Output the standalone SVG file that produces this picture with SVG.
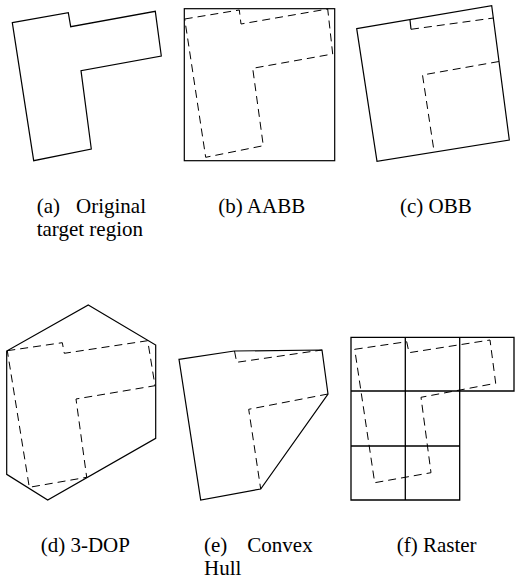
<svg xmlns="http://www.w3.org/2000/svg" width="515" height="587" viewBox="0 0 515 587">
<style>
.s{fill:none;stroke:#000;stroke-width:1.2;stroke-linejoin:miter}
.d{fill:none;stroke:#000;stroke-width:1;stroke-dasharray:8,5}
.g{fill:none;stroke:#000;stroke-width:1.3}
.t{font-family:"Liberation Serif","Times New Roman",serif;font-size:21px;fill:#000}
</style>
<rect width="515" height="587" fill="#fff"/>
<g id="panel-a">
<polygon class="s" points="12.3,22.7 68.3,12.7 70.7,26.7 155.3,11.3 161.3,56 81,70.7 91.3,149 33.7,160.7"/>
<text class="t" x="36.7" y="212.7">(a)</text>
<text class="t" x="146" y="212.7" text-anchor="end">Original</text>
<text class="t" x="36.7" y="235.5">target region</text>
</g>
<g id="panel-b">
<rect class="s" x="184.3" y="8.7" width="150.4" height="152"/>
<polygon class="d" points="184.7,19 239.3,10 241,24 327.7,9 332.7,54 252.7,68.3 263.3,145.7 205.7,157.3"/>
<text class="t" x="218.3" y="212.7">(b) AABB</text>
</g>
<g id="panel-c">
<polygon class="s" points="356.7,28.7 491.7,5.7 509.3,140 377,161.3"/>
<line class="s" x1="410" y1="20" x2="411" y2="29.3"/>
<polyline class="d" points="411,29.3 493.5,18"/>
<polyline class="d" points="499,61.5 422.5,75 434,151"/>
<text class="t" x="400" y="212.7">(c) OBB</text>
</g>
<g id="panel-d">
<polygon class="s" points="88.3,305 155.7,345 155.7,438.3 47.7,500 6.7,474.3 6.7,351"/>
<polygon class="d" points="7.3,350.7 62.3,342.7 64.3,353.3 147.7,340.7 155,385.7 76,399 86.7,477.3 29.3,487.3"/>
<text class="t" x="40.7" y="551.7">(d) 3-DOP</text>
</g>
<g id="panel-e">
<polygon class="s" points="179,359.3 234.3,351 322,350 328,394 260.7,489 200.7,500"/>
<polyline class="d" points="234.5,351 236.7,362.3 322,350"/>
<polyline class="d" points="328,394 248.7,409.3 260.7,489"/>
<text class="t" x="204" y="551.7">(e)</text>
<text class="t" x="312.7" y="551.7" text-anchor="end">Convex</text>
<text class="t" x="204" y="574.5">Hull</text>
</g>
<g id="panel-f">
<path class="g" d="M351,337.3H514V391H351ZM351,391V500H459.7V391M351,446H459.7M405.3,337.3V500M459.7,337.3V391"/>
<polygon class="d" points="354.7,349.3 406.7,341.7 409,352.7 490,340 495.7,383.3 421,397.3 431,472.7 374.7,482.7"/>
<text class="t" x="396.7" y="551.7">(f) Raster</text>
</g>
</svg>
